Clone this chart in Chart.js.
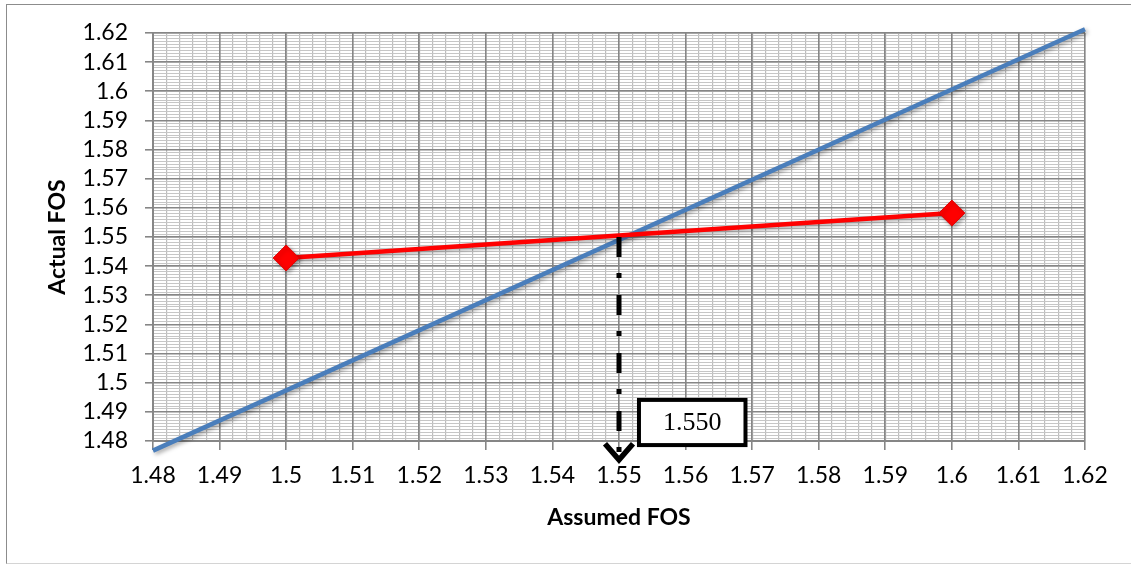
<!DOCTYPE html>
<html>
<head>
<meta charset="utf-8">
<script src="https://cdn.jsdelivr.net/npm/chart.js@4/dist/chart.umd.min.js"></script>
<style>
    html, body { margin: 0; padding: 0; background: #fff; }
    #wrap { position: relative; width: 1131px; height: 565px; overflow: hidden; }
    #frame { position: absolute; left: 6px; top: 4px; width: 1140px; height: 558px;
             border: 1px solid #8c8c8c; border-bottom-color: #d4d4d4; }
    canvas { position: absolute; left: 0; top: 0; }
</style>
</head>
<body>
<div id="wrap">
    <div id="frame"></div>
    <canvas id="myChart" width="1131" height="565"></canvas>
</div>
<script>
//Values
const lineX = [1.48, 1.62];          // blue line (actual = assumed)
const lineY = [1.4767, 1.6213];
const trialX = [1.5, 1.6];           // red trial points
const trialY = [1.5428, 1.5582];

const axisMin = 1.48;
const axisMax = 1.62;
const majorStep = 0.01;
const minorStepX = 0.002;
const minorStepY = 0.001;

const resultValue = 1.55;
const resultLabel = "1.550";
const arrowTipValue = 1.4722;
const labelBoxX = [1.553, 1.569];
const labelBoxY = [1.4786, 1.4941];

const fontFamily = "Lato, 'Liberation Sans', sans-serif";

//format 1.60 -> 1.6 like the original
function tickText(v) {
    return String(Number(v.toFixed(2)));
}

//drop shadow under the series
const shadowPlugin = {
    id: 'lineShadow',
    beforeDatasetDraw(chart) {
        let c = chart.ctx;
        c.save();
        c.shadowColor = 'rgba(0,0,0,0.35)';
        c.shadowBlur = 4;
        c.shadowOffsetX = 2;
        c.shadowOffsetY = 2;
    },
    afterDatasetDraw(chart) {
        chart.ctx.restore();
    }
};

//dash-dot arrow down to the x axis and the value box
const resultPlugin = {
    id: 'resultArrow',
    afterDatasetsDraw(chart) {
        let ctx = chart.ctx;
        let x = chart.scales.x;
        let y = chart.scales.y;
        let px = x.getPixelForValue(resultValue);
        let top = y.getPixelForValue(resultValue);
        let tip = y.getPixelForValue(arrowTipValue);

        ctx.save();
        ctx.strokeStyle = '#000';
        ctx.lineWidth = 5;
        ctx.setLineDash([20, 16, 5, 17]);
        ctx.beginPath();
        ctx.moveTo(px, top);
        ctx.lineTo(px, tip - 6);
        ctx.stroke();

        ctx.setLineDash([]);
        ctx.lineWidth = 5.5;
        ctx.lineJoin = 'miter';
        ctx.beginPath();
        ctx.moveTo(px - 14, tip - 20);
        ctx.lineTo(px, tip - 4);
        ctx.lineTo(px + 14, tip - 20);
        ctx.stroke();

        let bx1 = x.getPixelForValue(labelBoxX[0]);
        let bx2 = x.getPixelForValue(labelBoxX[1]);
        let by1 = y.getPixelForValue(labelBoxY[1]);
        let by2 = y.getPixelForValue(labelBoxY[0]);
        ctx.fillStyle = '#fff';
        ctx.fillRect(bx1, by1, bx2 - bx1, by2 - by1);
        ctx.lineWidth = 4;
        ctx.strokeRect(bx1, by1, bx2 - bx1, by2 - by1);

        ctx.fillStyle = '#000';
        ctx.font = "26px 'Liberation Serif', 'Times New Roman', serif";
        ctx.textAlign = 'center';
        ctx.textBaseline = 'middle';
        ctx.fillText(resultLabel, (bx1 + bx2) / 2, (by1 + by2) / 2 + 1);
        ctx.restore();
    }
};

function makeChart() {
    let ctx = document.getElementById('myChart').getContext('2d');
    let myChart = new Chart(ctx, {
        type: 'line',
        data: {
            datasets: [{
                label: 'Trial',
                data: trialX.map((v, i) => ({ x: v, y: trialY[i] })),
                xAxisID: 'x',
                yAxisID: 'y',
                borderColor: '#ff0000',
                backgroundColor: '#ff0000',
                borderWidth: 4.5,
                pointStyle: 'rectRot',
                pointRadius: 13,
                pointBorderWidth: 1,
                pointBackgroundColor: '#ff0000',
                pointBorderColor: '#e00000',
                tension: 0,
                clip: false
            }, {
                label: 'Actual = Assumed',
                data: lineX.map((v, i) => ({ x: v, y: lineY[i] })),
                xAxisID: 'x',
                yAxisID: 'y',
                borderColor: '#4a7ebb',
                borderWidth: 4.5,
                pointRadius: 0,
                tension: 0,
                clip: false
            }]
        },
        options: {
            responsive: false,
            animation: false,
            layout: {
                padding: { left: 0, top: 33, right: 46, bottom: 0 }
            },
            plugins: {
                legend: { display: false },
                tooltip: { enabled: false }
            },
            scales: {
                xMinor: {
                    type: 'linear',
                    axis: 'x',
                    position: 'bottom',
                    min: axisMin,
                    max: axisMax,
                    ticks: { display: false, stepSize: minorStepX },
                    grid: { color: '#bdbdbd', lineWidth: 1.2, drawTicks: false, z: -2 },
                    border: { display: false },
                    afterFit: s => { s.height = 0; }
                },
                yMinor: {
                    type: 'linear',
                    axis: 'y',
                    position: 'left',
                    min: axisMin,
                    max: axisMax,
                    ticks: { display: false, stepSize: minorStepY },
                    grid: { color: '#c6c6c6', lineWidth: 1, drawTicks: false, z: -2 },
                    border: { display: false },
                    afterFit: s => { s.width = 0; }
                },
                x: {
                    type: 'linear',
                    position: 'bottom',
                    min: axisMin,
                    max: axisMax,
                    ticks: {
                        stepSize: majorStep,
                        callback: tickText,
                        color: '#000',
                        padding: 12,
                        maxRotation: 0,
                        autoSkip: false,
                        font: { family: fontFamily, size: 23 }
                    },
                    grid: { color: '#868686', lineWidth: 1.6, tickLength: 9 },
                    border: { color: '#868686', width: 2 },
                    title: {
                        display: true,
                        text: 'Assumed FOS',
                        color: '#000',
                        font: { family: fontFamily, size: 23, weight: 'bold' },
                        padding: { top: 0, bottom: 34 }
                    },
                    afterFit: s => { s.height = 124; }
                },
                y: {
                    type: 'linear',
                    position: 'left',
                    min: axisMin,
                    max: axisMax,
                    ticks: {
                        stepSize: majorStep,
                        callback: tickText,
                        color: '#000',
                        padding: 17,
                        autoSkip: false,
                        font: { family: fontFamily, size: 23 }
                    },
                    grid: { color: '#868686', lineWidth: 1.6, tickLength: 8 },
                    border: { color: '#868686', width: 2 },
                    title: {
                        display: true,
                        text: 'Actual FOS',
                        color: '#000',
                        font: { family: fontFamily, size: 23, weight: 'bold' },
                        padding: { top: 44, bottom: 0 }
                    },
                    afterFit: s => { s.width = 153; }
                }
            }
        },
        plugins: [shadowPlugin, resultPlugin]
    });
}
makeChart();
</script>
</body>
</html>
